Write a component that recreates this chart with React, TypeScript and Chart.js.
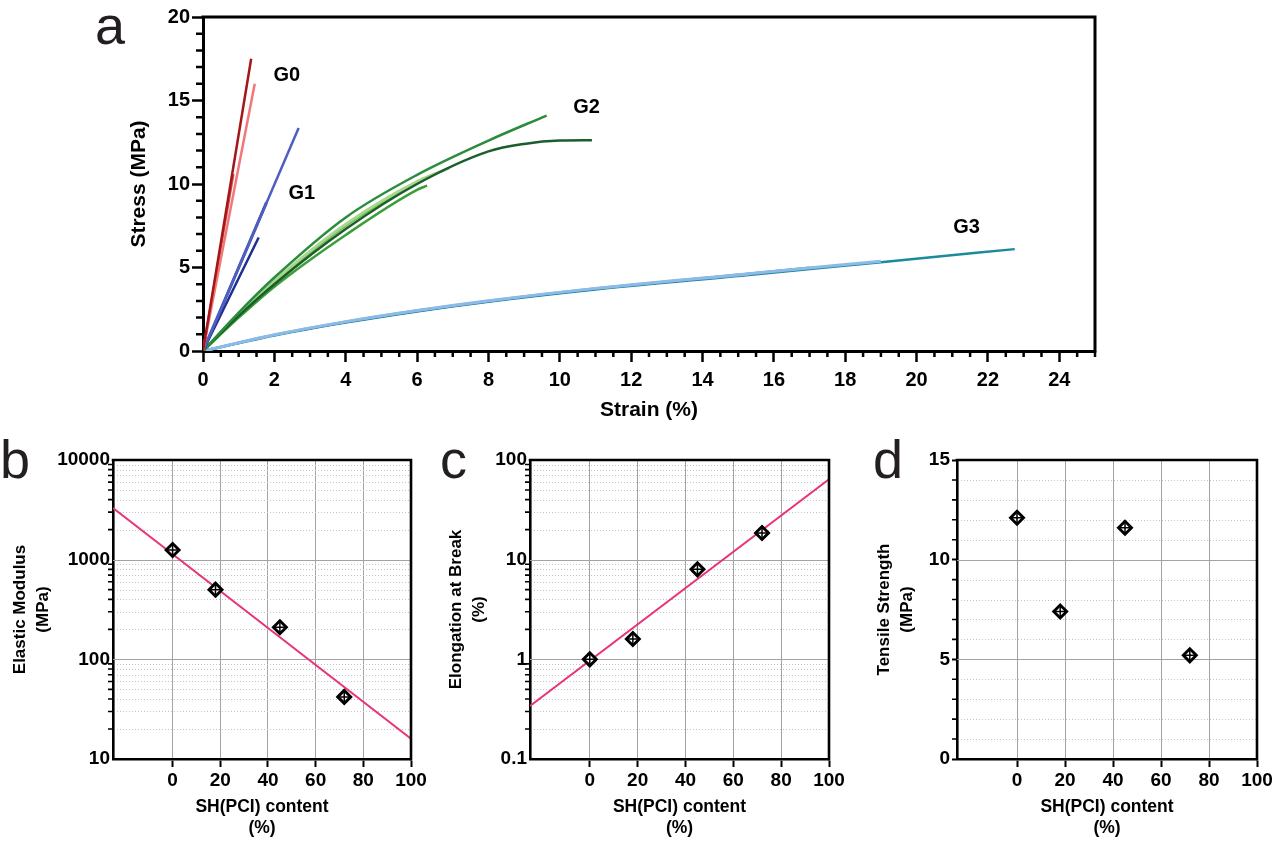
import React, { useEffect, useRef } from "react";
import { Chart, registerables } from "chart.js";
Chart.register(...registerables);

const FONT = "'Liberation Sans', Arial, Helvetica, sans-serif";

// ---------------- Panel a : stress-strain curves ----------------
const strainTicks = [0, 2, 4, 6, 8, 10, 12, 14, 16, 18, 20, 22, 24];
const stressTicks = [0, 5, 10, 15, 20];

// G0
const g0aStrain = [0, 1.35];
const g0aStress = [0, 17.5];
const g0bStrain = [0, 1.45];
const g0bStress = [0, 16.0];
const g0cStrain = [0, 0.85];
const g0cStress = [0, 10.6];
// G1
const g1aStrain = [0, 2.68];
const g1aStress = [0, 13.35];
const g1bStrain = [0, 1.78];
const g1bStress = [0, 8.9];
const g1cStrain = [0, 1.56];
const g1cStress = [0, 6.8];
// G2
const g2aStrain = [0, 1, 2, 4, 6, 8, 9.63];
const g2aStress = [0, 2.3, 4.4, 8.0, 10.55, 12.6, 14.1];
const g2bStrain = [0, 1, 2, 4, 6, 8, 9, 10, 10.9];
const g2bStress = [0, 2.1, 4.0, 7.3, 10.0, 11.95, 12.4, 12.6, 12.62];
const g2cStrain = [0, 1, 2, 4, 6, 6.9];
const g2cStress = [0, 2.2, 4.2, 7.6, 10.15, 10.95];
const g2dStrain = [0, 1, 2, 4, 6, 6.2];
const g2dStress = [0, 2.15, 4.1, 7.5, 10.1, 10.35];
const g2eStrain = [0, 1, 2, 4, 6, 6.28];
const g2eStress = [0, 2.0, 3.85, 6.95, 9.65, 9.9];
// G3
const g3aStrain = [0, 2, 4, 6, 8, 11, 15.3, 19, 22.75];
const g3aStress = [0, 0.93, 1.7, 2.37, 2.95, 3.68, 4.55, 5.32, 6.1];
const g3bStrain = [0, 2, 4, 6, 8, 11, 15.3, 19];
const g3bStress = [0, 0.97, 1.76, 2.43, 3.01, 3.75, 4.63, 5.38];
const g3cStrain = [0, 2, 4, 6, 8, 11, 15.3];
const g3cStress = [0, 0.97, 1.75, 2.42, 3.0, 3.74, 4.6];
const g3dStrain = [0, 2, 4, 6, 8, 11, 15.3, 17];
const g3dStress = [0, 0.95, 1.73, 2.4, 2.98, 3.72, 4.62, 4.98];

const groupNames = ["G0", "G1", "G2", "G3"];
const groupLabelStrain = [2.35, 2.77, 10.75, 21.4];
const groupLabelStress = [16.5, 9.46, 14.6, 7.4];

// ---------------- Panels b, c, d ----------------
const contentTicks = [0, 20, 40, 60, 80, 100];
const shContent = [0, 18, 45, 72];
const elasticModulus = [1250, 500, 210, 42];
const elongationAtBreak = [1.0, 1.6, 8.0, 18.5];
const tensileStrength = [12.1, 7.4, 11.6, 5.2];

const modulusFitX = [-25, 100];
const modulusFitY = [3300, 16];
const elongationFitX = [-25, 100];
const elongationFitY = [0.34, 64];

const modulusTicks = [10, 100, 1000, 10000];
const elongationTicks = [0.1, 1, 10, 100];
const strengthTicks = [0, 5, 10, 15];

// ---------------- helpers ----------------
function logMinors(decades: number[]) {
  const out: number[] = [];
  for (let i = 0; i < decades.length - 1; i++) {
    for (let k = 2; k <= 9; k++) out.push(decades[i] * k);
  }
  return out;
}
function stepMinors(min: number, max: number, step: number, major: number) {
  const out: number[] = [];
  for (let v = min; v <= max + 1e-9; v += step) {
    const r = Math.round(v * 1000) / 1000;
    if (Math.abs(r / major - Math.round(r / major)) > 1e-6) out.push(r);
  }
  return out;
}

type DecorCfg = {
  frame: number;
  xMinor?: number[];
  xMinorLen?: number;
  yMinor?: number[];
  yMinorLen?: number;
  minorWidth?: number;
  yGridMajor?: number[];
  yGridMinor?: number[];
  labels?: { x: number; y: number; text: string }[];
  labelFont?: string;
};

function makeDecor(cfg: DecorCfg) {
  return {
    id: "decor",
    beforeDatasetsDraw(chart: any) {
      const { ctx, chartArea: a, scales } = chart;
      const ys = scales.y;
      ctx.save();
      ctx.lineWidth = 1;
      if (cfg.yGridMinor) {
        ctx.strokeStyle = "#c4c4c4";
        ctx.setLineDash([1, 2]);
        ctx.beginPath();
        for (const v of cfg.yGridMinor) {
          const py = Math.round(ys.getPixelForValue(v)) + 0.5;
          ctx.moveTo(a.left + 4, py);
          ctx.lineTo(a.right, py);
        }
        ctx.stroke();
      }
      if (cfg.yGridMajor) {
        ctx.setLineDash([]);
        ctx.strokeStyle = "#a3a3a3";
        ctx.beginPath();
        for (const v of cfg.yGridMajor) {
          const py = Math.round(ys.getPixelForValue(v)) + 0.5;
          ctx.moveTo(a.left, py);
          ctx.lineTo(a.right, py);
        }
        ctx.stroke();
      }
      ctx.restore();
    },
    afterDraw(chart: any) {
      const { ctx, chartArea: a, scales } = chart;
      const xs = scales.x;
      const ys = scales.y;
      ctx.save();
      ctx.strokeStyle = "#000";
      ctx.lineWidth = cfg.minorWidth ?? 2;
      ctx.beginPath();
      if (cfg.xMinor) {
        for (const v of cfg.xMinor) {
          const px = xs.getPixelForValue(v);
          ctx.moveTo(px, a.bottom);
          ctx.lineTo(px, a.bottom + (cfg.xMinorLen ?? 6));
        }
      }
      if (cfg.yMinor) {
        for (const v of cfg.yMinor) {
          const py = ys.getPixelForValue(v);
          ctx.moveTo(a.left, py);
          ctx.lineTo(a.left - (cfg.yMinorLen ?? 6), py);
        }
      }
      ctx.stroke();
      // frame (top + right)
      ctx.lineWidth = cfg.frame;
      ctx.lineCap = "square";
      ctx.beginPath();
      ctx.moveTo(a.left, a.top);
      ctx.lineTo(a.right, a.top);
      ctx.lineTo(a.right, a.bottom);
      ctx.stroke();
      if (cfg.labels) {
        ctx.fillStyle = "#000";
        ctx.font = cfg.labelFont ?? `bold 20px ${FONT}`;
        ctx.textAlign = "center";
        ctx.textBaseline = "middle";
        for (const l of cfg.labels) {
          ctx.fillText(l.text, xs.getPixelForValue(l.x), ys.getPixelForValue(l.y));
        }
      }
      ctx.restore();
    },
  };
}

const curve = (strain: number[], stress: number[], color: string, width = 2.5) => ({
  data: strain.map((x, i) => ({ x, y: stress[i] })),
  showLine: true,
  borderColor: color,
  backgroundColor: color,
  borderWidth: width,
  pointRadius: 0,
  cubicInterpolationMode: "monotone",
  fill: false,
});

const markerSets = (xs: number[], ys: number[]) => [
  {
    data: xs.map((x, i) => ({ x, y: ys[i] })),
    showLine: false,
    pointStyle: "cross",
    pointRadius: 6.5,
    pointBorderWidth: 1.5,
    pointBorderColor: "#000",
  },
  {
    data: xs.map((x, i) => ({ x, y: ys[i] })),
    showLine: false,
    pointStyle: "rectRot",
    pointRadius: 6.5,
    pointBorderWidth: 2.9,
    pointBorderColor: "#000",
    pointBackgroundColor: "rgba(255,255,255,0.9)",
  },
];

const fitLine = (xs: number[], ys: number[]) => ({
  data: xs.map((x, i) => ({ x, y: ys[i] })),
  showLine: true,
  borderColor: "#e6337b",
  borderWidth: 2,
  pointRadius: 0,
  fill: false,
});

const tickFont = (size: number) => ({ family: FONT, size, weight: "bold" as const });

function configA() {
  return {
    type: "scatter",
    data: {
      datasets: [
        curve(g0aStrain, g0aStress, "#a3161a", 2.5),
        curve(g0bStrain, g0bStress, "#f0787a", 2.5),
        curve(g0cStrain, g0cStress, "#d94a4a", 2.5),
        curve(g1aStrain, g1aStress, "#4f5fbf", 2.5),
        curve(g1bStrain, g1bStress, "#3a4cae", 3),
        curve(g1cStrain, g1cStress, "#1f2f8f", 2.5),
        curve(g2aStrain, g2aStress, "#2a8c3c", 2.5),
        curve(g2bStrain, g2bStress, "#1b5e2b", 2.5),
        curve(g2cStrain, g2cStress, "#a8d68c", 2.8),
        curve(g2dStrain, g2dStress, "#6cbd4c", 2.5),
        curve(g2eStrain, g2eStress, "#3a9e36", 2.5),
        curve(g3bStrain, g3bStress, "#8dbbe8", 3),
        curve(g3cStrain, g3cStress, "#6aa5dc", 2.5),
        curve(g3dStrain, g3dStress, "#2d6e9a", 2.5),
        curve(g3aStrain, g3aStress, "#1c8a9c", 2.5),
      ],
    },
    options: {
      animation: false,
      responsive: false,
      maintainAspectRatio: false,
      events: [],
      layout: { padding: { left: 0, top: 17, right: 25, bottom: 0 } },
      plugins: { legend: { display: false }, tooltip: { enabled: false } },
      scales: {
        x: {
          type: "linear",
          min: 0,
          max: 25,
          afterBuildTicks: (s: any) => {
            s.ticks = strainTicks.map((v) => ({ value: v }));
          },
          afterFit: (s: any) => {
            s.height = 74;
          },
          grid: { drawOnChartArea: false, drawTicks: true, tickLength: 11, tickWidth: 2.5, tickColor: "#000" },
          border: { color: "#000", width: 3 },
          ticks: { color: "#000", font: tickFont(20), padding: 6, autoSkip: false, maxRotation: 0, callback: (v: any) => String(v) },
          title: { display: true, text: "Strain (%)", color: "#000", font: { family: FONT, size: 21, weight: "bold" }, padding: { top: 0, bottom: 2 } },
        },
        y: {
          type: "linear",
          min: 0,
          max: 20,
          afterBuildTicks: (s: any) => {
            s.ticks = stressTicks.map((v) => ({ value: v }));
          },
          afterFit: (s: any) => {
            s.width = 113;
          },
          grid: { drawOnChartArea: false, drawTicks: true, tickLength: 11, tickWidth: 2.5, tickColor: "#000" },
          border: { color: "#000", width: 3 },
          ticks: { color: "#000", font: tickFont(20), padding: 2, autoSkip: false, callback: (v: any) => String(v) },
          title: { display: true, text: "Stress (MPa)", color: "#000", font: { family: FONT, size: 21, weight: "bold" }, padding: { top: 37, bottom: 0 } },
        },
      },
    },
    plugins: [
      makeDecor({
        frame: 3,
        xMinor: stepMinors(0, 25, 0.5, 2),
        xMinorLen: 6,
        yMinor: stepMinors(0, 20, 1, 5),
        yMinorLen: 7,
        minorWidth: 2.5,
        labels: groupNames.map((t, i) => ({ text: t, x: groupLabelStrain[i], y: groupLabelStress[i] })),
        labelFont: `bold 20px ${FONT}`,
      }),
    ],
  };
}

function configSmall(opts: {
  datasets: any[];
  yType: "linear" | "logarithmic";
  yMin: number;
  yMax: number;
  yTicks: number[];
  yTitle: string[];
  yWidth: number;
  yTitlePad: number;
  yTickLen: number;
  yTickPad: number;
  rightPad: number;
  yGridMajor: number[];
  yGridMinor: number[];
}) {
  return {
    type: "scatter",
    data: { datasets: opts.datasets },
    options: {
      animation: false,
      responsive: false,
      maintainAspectRatio: false,
      events: [],
      layout: { padding: { left: 0, top: 15, right: opts.rightPad, bottom: 0 } },
      plugins: { legend: { display: false }, tooltip: { enabled: false } },
      scales: {
        x: {
          type: "linear",
          min: -25,
          max: 100,
          afterBuildTicks: (s: any) => {
            s.ticks = contentTicks.map((v) => ({ value: v }));
          },
          afterFit: (s: any) => {
            s.height = 83;
          },
          grid: {
            drawOnChartArea: true,
            color: "#a3a3a3",
            lineWidth: 1,
            drawTicks: true,
            tickLength: 8,
            tickWidth: 2,
            tickColor: "#000",
          },
          border: { color: "#000", width: 2.6 },
          ticks: { color: "#000", font: tickFont(19), padding: 2, autoSkip: false, maxRotation: 0, callback: (v: any) => String(v) },
          title: {
            display: true,
            text: ["SH(PCI) content", "(%)"],
            color: "#000",
            font: { family: FONT, size: 17.5, weight: "bold", lineHeight: 1.2 },
            padding: { top: 0, bottom: 3 },
          },
        },
        y: {
          type: opts.yType,
          min: opts.yMin,
          max: opts.yMax,
          afterBuildTicks: (s: any) => {
            s.ticks = opts.yTicks.map((v) => ({ value: v, major: true }));
          },
          afterFit: (s: any) => {
            s.width = opts.yWidth;
          },
          grid: {
            drawOnChartArea: false,
            drawTicks: opts.yTickLen > 0,
            tickLength: opts.yTickLen,
            tickWidth: 2,
            tickColor: "#000",
          },
          border: { color: "#000", width: 2.6 },
          ticks: { color: "#000", font: tickFont(19), padding: opts.yTickPad, autoSkip: false, callback: (v: any) => String(v) },
          title: {
            display: true,
            text: opts.yTitle,
            color: "#000",
            font: { family: FONT, size: 17, weight: "bold", lineHeight: 1.35 },
            padding: { top: opts.yTitlePad, bottom: 0 },
          },
        },
      },
    },
    plugins: [
      makeDecor({
        frame: 2.6,
        yMinor: opts.yGridMinor,
        yMinorLen: 5,
        minorWidth: 1.6,
        yGridMajor: opts.yGridMajor,
        yGridMinor: opts.yGridMinor,
      }),
    ],
  };
}

function ChartBox({ left, top, width, height, build }: { left: number; top: number; width: number; height: number; build: () => any }) {
  const ref = useRef<HTMLCanvasElement | null>(null);
  useEffect(() => {
    const chart = new Chart(ref.current as HTMLCanvasElement, build());
    return () => chart.destroy();
  }, []);
  return (
    <canvas
      ref={ref}
      width={width}
      height={height}
      style={{ position: "absolute", left, top, width, height }}
    />
  );
}

const letterStyle = (left: number, top: number): React.CSSProperties => ({
  position: "absolute",
  left,
  top,
  fontFamily: FONT,
  fontSize: 54,
  lineHeight: "54px",
  color: "#231f20",
  zIndex: 2,
});

export default function App() {
  return (
    <div style={{ position: "absolute", left: 0, top: 0, width: 1283, height: 842, background: "#fff", overflow: "hidden" }}>
      <ChartBox left={90} top={0} width={1030} height={425} build={configA} />
      <ChartBox
        left={0}
        top={445}
        width={440}
        height={397}
        build={() =>
          configSmall({
            datasets: [...markerSets(shContent, elasticModulus), fitLine(modulusFitX, modulusFitY)],
            yType: "logarithmic",
            yMin: 10,
            yMax: 10000,
            yTicks: modulusTicks,
            yTitle: ["Elastic Modulus", "(MPa)"],
            yWidth: 113,
            yTitlePad: 8.5,
            yTickLen: 0,
            yTickPad: 3,
            rightPad: 29,
            yGridMajor: [100, 1000],
            yGridMinor: logMinors(modulusTicks),
          })
        }
      />
      <ChartBox
        left={440}
        top={445}
        width={420}
        height={397}
        build={() =>
          configSmall({
            datasets: [...markerSets(shContent, elongationAtBreak), fitLine(elongationFitX, elongationFitY)],
            yType: "logarithmic",
            yMin: 0.1,
            yMax: 100,
            yTicks: elongationTicks,
            yTitle: ["Elongation at Break", "(%)"],
            yWidth: 90,
            yTitlePad: 4.5,
            yTickLen: 0,
            yTickPad: 3,
            rightPad: 31,
            yGridMajor: [1, 10],
            yGridMinor: logMinors(elongationTicks),
          })
        }
      />
      <ChartBox
        left={860}
        top={445}
        width={423}
        height={397}
        build={() =>
          configSmall({
            datasets: [...markerSets(shContent, tensileStrength)],
            yType: "linear",
            yMin: 0,
            yMax: 15,
            yTicks: strengthTicks,
            yTitle: ["Tensile Strength", "(MPa)"],
            yWidth: 97,
            yTitlePad: 12.5,
            yTickLen: 5,
            yTickPad: 2,
            rightPad: 26,
            yGridMajor: [5, 10],
            yGridMinor: stepMinors(0, 15, 1, 5),
          })
        }
      />
      <div style={letterStyle(95, -2)}>a</div>
      <div style={letterStyle(0, 432)}>b</div>
      <div style={letterStyle(440, 432)}>c</div>
      <div style={letterStyle(873, 432)}>d</div>
    </div>
  );
}
